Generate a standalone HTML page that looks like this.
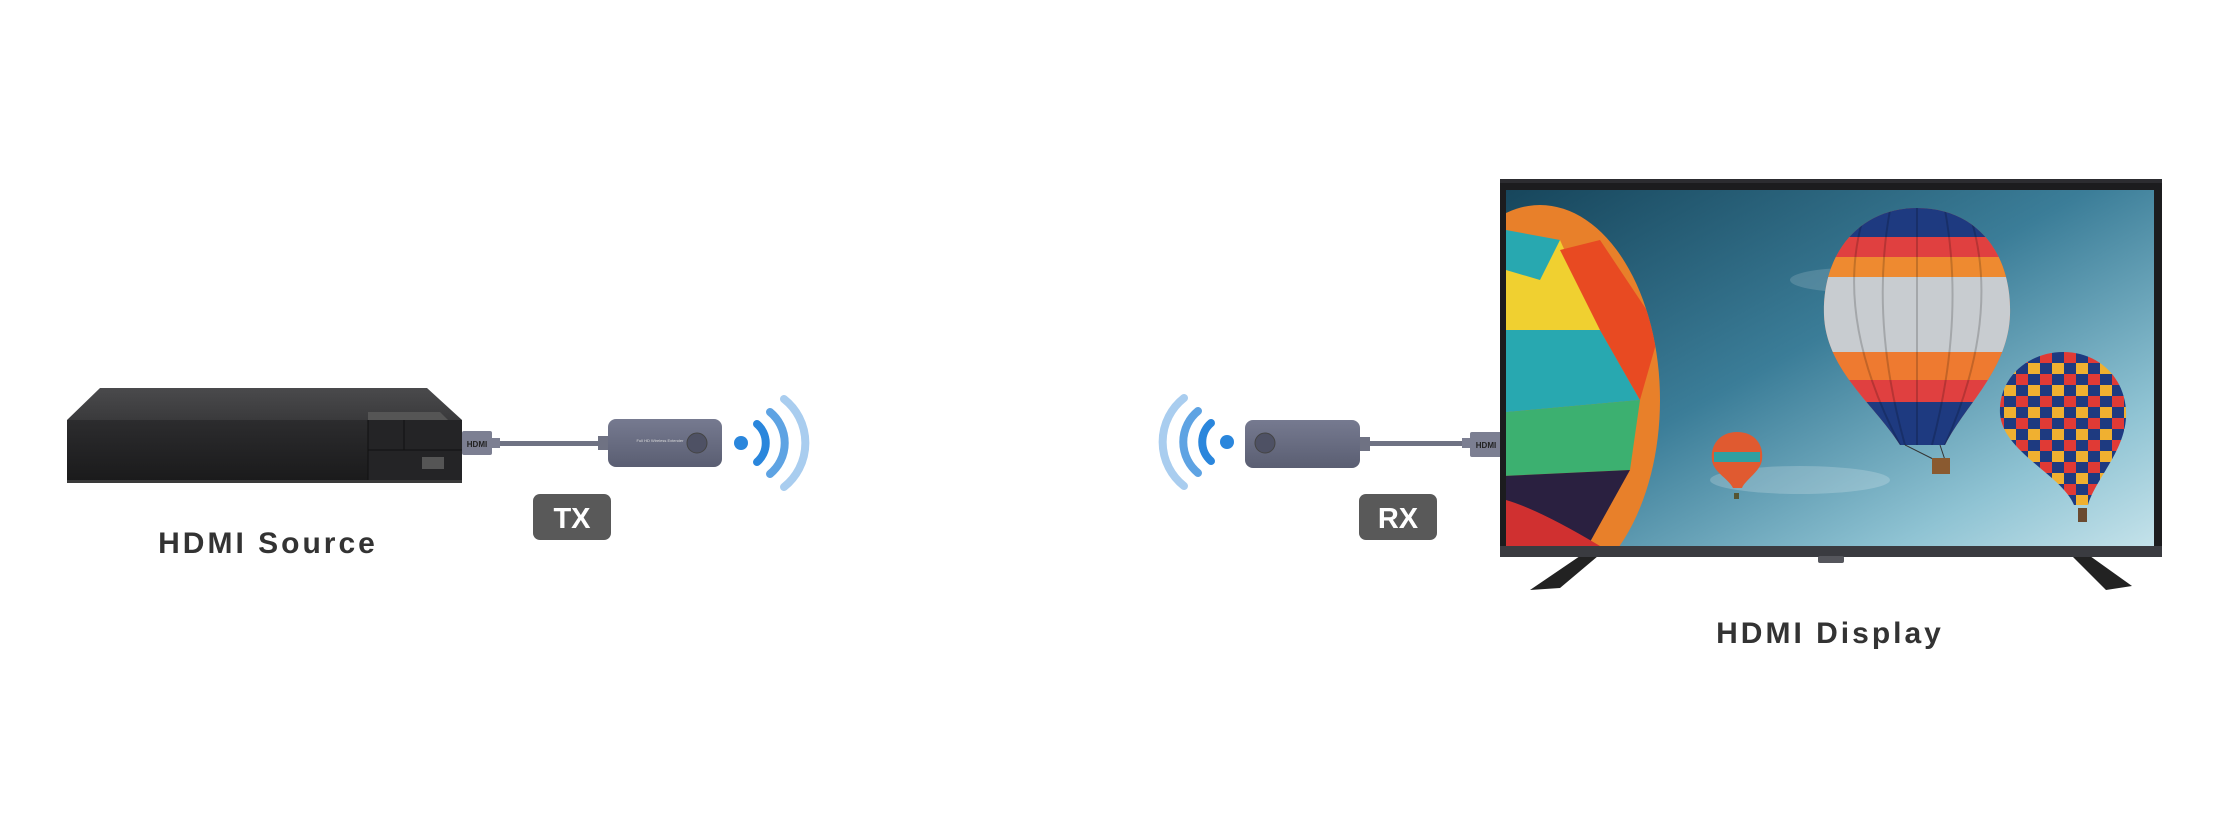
<!DOCTYPE html>
<html><head><meta charset="utf-8"><style>
html,body{margin:0;padding:0;background:#fff;width:2240px;height:838px;overflow:hidden}
</style></head><body>
<svg width="2240" height="838" viewBox="0 0 2240 838" xmlns="http://www.w3.org/2000/svg">
<defs>
<linearGradient id="sky" x1="0" y1="0" x2="1" y2="1">
<stop offset="0" stop-color="#17465c"/><stop offset="0.45" stop-color="#3b7d98"/><stop offset="0.8" stop-color="#8fc3d3"/><stop offset="1" stop-color="#c4e2ea"/>
</linearGradient>
<linearGradient id="front" x1="0" y1="0" x2="0" y2="1"><stop offset="0" stop-color="#2c2c2e"/><stop offset="1" stop-color="#1a1a1b"/></linearGradient>
<linearGradient id="topf" x1="0" y1="0" x2="0" y2="1"><stop offset="0" stop-color="#4a4a4c"/><stop offset="1" stop-color="#3a3a3c"/></linearGradient>
<linearGradient id="dong" x1="0" y1="0" x2="0" y2="1"><stop offset="0" stop-color="#767a90"/><stop offset="1" stop-color="#5a5e72"/></linearGradient>
<clipPath id="scr"><rect x="1506" y="190" width="648" height="356"/></clipPath>
<clipPath id="bigb"><path d="M1917,208 C1978,208 2012,255 2010,315 C2008,370 1965,405 1945,445 L1900,445 C1875,405 1826,370 1824,315 C1822,255 1858,208 1917,208Z"/></clipPath>
<clipPath id="rb"><path d="M2063,352 C2102,352 2128,382 2126,418 C2124,452 2095,480 2088,505 L2074,505 C2062,475 2003,452 2000,414 C1998,378 2028,352 2063,352Z"/></clipPath>
<clipPath id="lb"><ellipse cx="1540" cy="400" rx="120" ry="195"/></clipPath>
<pattern id="chk" width="24" height="22" patternUnits="userSpaceOnUse">
<rect width="24" height="22" fill="#1e3a80"/><rect width="12" height="11" fill="#e03a35"/><rect x="12" y="11" width="12" height="11" fill="#f0b030"/>
</pattern>
</defs>

<polygon points="100,388 427,388 462,420 67,420" fill="url(#topf)"/>
<polygon points="368,412 440,412 448,420 368,420" fill="#555"/>
<rect x="67" y="420" width="395" height="62" fill="url(#front)"/>
<rect x="368" y="420" width="94" height="62" fill="#242426"/>
<line x1="368" y1="420" x2="368" y2="482" stroke="#111" stroke-width="1"/>
<line x1="404" y1="420" x2="404" y2="450" stroke="#111" stroke-width="1"/>
<line x1="368" y1="450" x2="462" y2="450" stroke="#111" stroke-width="1"/>
<rect x="422" y="457" width="22" height="12" fill="#555"/>
<rect x="67" y="480" width="395" height="3" fill="#3a3a3a"/>

<rect x="462" y="431" width="30" height="24" rx="2" fill="#7c7f92"/>
<text x="477" y="447" font-family="Liberation Sans, sans-serif" font-size="8" font-weight="bold" fill="#222" text-anchor="middle">HDMI</text>
<rect x="492" y="438" width="8" height="10" fill="#7c7f92"/>
<rect x="500" y="441" width="100" height="5" fill="#6f7283"/>
<rect x="598" y="436" width="10" height="14" fill="#6f7283"/>
<rect x="608" y="419" width="114" height="48" rx="8" fill="url(#dong)"/>
<circle cx="697" cy="443" r="10" fill="#4e5164" stroke="#444" stroke-width="1"/>
<text x="660" y="442" font-family="Liberation Sans, sans-serif" font-size="4" fill="#ddd" text-anchor="middle">Full HD Wireless Extender</text>
<circle cx="741" cy="443" r="7" fill="#2a86dc"/>
<path d="M757,424 A25,25 0 0 1 757,462" fill="none" stroke="#2a86dc" stroke-width="8" stroke-linecap="round"/>
<path d="M770,412 A40,40 0 0 1 770,474" fill="none" stroke="#5ea3e3" stroke-width="8" stroke-linecap="round"/>
<path d="M784,399 A56,56 0 0 1 784,487" fill="none" stroke="#a9cdef" stroke-width="8" stroke-linecap="round"/>

<rect x="533" y="494" width="78" height="46" rx="7" fill="#595959"/>
<text x="572" y="528" font-family="Liberation Sans, sans-serif" font-size="29" font-weight="bold" fill="#fff" text-anchor="middle">TX</text>
<text x="268" y="553" font-family="Liberation Sans, sans-serif" font-size="30" font-weight="bold" fill="#333" text-anchor="middle" letter-spacing="3">HDMI Source</text>

<circle cx="1227" cy="442" r="7" fill="#2a86dc"/>
<path d="M1211,423 A25,25 0 0 0 1211,461" fill="none" stroke="#2a86dc" stroke-width="8" stroke-linecap="round"/>
<path d="M1198,411 A40,40 0 0 0 1198,473" fill="none" stroke="#5ea3e3" stroke-width="8" stroke-linecap="round"/>
<path d="M1184,398 A56,56 0 0 0 1184,486" fill="none" stroke="#a9cdef" stroke-width="8" stroke-linecap="round"/>
<rect x="1245" y="420" width="115" height="48" rx="8" fill="url(#dong)"/>
<circle cx="1265" cy="443" r="10" fill="#4e5164" stroke="#444" stroke-width="1"/>
<rect x="1360" y="437" width="10" height="14" fill="#6f7283"/>
<rect x="1370" y="441" width="95" height="5" fill="#6f7283"/>
<rect x="1462" y="438" width="8" height="10" fill="#7c7f92"/>
<rect x="1470" y="432" width="32" height="25" rx="2" fill="#7c7f92"/>
<text x="1486" y="448" font-family="Liberation Sans, sans-serif" font-size="8" font-weight="bold" fill="#222" text-anchor="middle">HDMI</text>
<rect x="1359" y="494" width="78" height="46" rx="7" fill="#595959"/>
<text x="1398" y="528" font-family="Liberation Sans, sans-serif" font-size="29" font-weight="bold" fill="#fff" text-anchor="middle">RX</text>

<polygon points="1580,556 1598,556 1560,588 1530,590" fill="#222"/>
<polygon points="2072,556 2090,556 2132,586 2106,590" fill="#222"/>
<rect x="1500" y="179" width="662" height="378" fill="#1c1c1e"/>
<rect x="1500" y="546" width="662" height="11" fill="#3a3b40"/>
<rect x="1818" y="556" width="26" height="7" rx="2" fill="#55565c"/>
<rect x="1506" y="190" width="648" height="356" fill="url(#sky)"/>
<g clip-path="url(#scr)">
<ellipse cx="1850" cy="280" rx="60" ry="12" fill="#fff" opacity="0.15"/>
<ellipse cx="1800" cy="480" rx="90" ry="14" fill="#fff" opacity="0.2"/>
<g clip-path="url(#lb)">
<rect x="1400" y="200" width="300" height="400" fill="#e8802a"/>
<path d="M1420,260 L1560,240 L1600,330 L1420,330Z" fill="#f0d030"/>
<path d="M1420,330 L1600,330 L1640,400 L1420,420Z" fill="#28a8b0"/>
<path d="M1560,250 L1600,240 L1660,330 L1640,400 L1600,330Z" fill="#e84a22"/>
<path d="M1420,420 L1640,400 L1630,470 L1420,480Z" fill="#3cb070"/>
<path d="M1420,480 L1630,470 L1580,560 L1420,560Z" fill="#2a2040"/>
<path d="M1506,500 Q1540,510 1600,546 L1506,546Z" fill="#d03030"/>
<path d="M1506,230 L1560,240 L1540,280 L1506,270Z" fill="#28a8b0"/>
</g>
<g clip-path="url(#bigb)">
<rect x="1820" y="205" width="195" height="245" fill="#e86530"/>
<rect x="1820" y="205" width="195" height="32" fill="#1e3a80"/>
<rect x="1820" y="237" width="195" height="20" fill="#e04040"/>
<rect x="1820" y="257" width="195" height="20" fill="#ee8a30"/>
<rect x="1820" y="277" width="195" height="75" fill="#c8ccd0"/>
<rect x="1820" y="352" width="195" height="28" fill="#ee7a30"/>
<rect x="1820" y="380" width="195" height="22" fill="#e04040"/>
<rect x="1820" y="402" width="195" height="45" fill="#1e3a80"/>
<g stroke="#000" stroke-opacity="0.18" stroke-width="2" fill="none">
<path d="M1917,208 L1917,445 M1890,210 Q1870,320 1905,445 M1945,210 Q1965,320 1932,445 M1862,222 Q1835,320 1900,445 M1972,222 Q2000,320 1945,445"/>
</g>
</g>
<line x1="1905" y1="445" x2="1935" y2="460" stroke="#333" stroke-width="1"/>
<line x1="1940" y1="445" x2="1945" y2="460" stroke="#333" stroke-width="1"/>
<rect x="1932" y="458" width="18" height="16" fill="#8a5a30"/>
<g clip-path="url(#rb)"><rect x="1995" y="350" width="135" height="160" fill="url(#chk)"/></g>
<rect x="2078" y="508" width="9" height="14" fill="#6a4a30"/>
<path d="M1737,432 C1755,432 1764,445 1762,460 C1760,472 1745,480 1742,488 L1733,488 C1728,478 1713,472 1712,460 C1710,445 1720,432 1737,432Z" fill="#e05a30"/>
<path d="M1714,452 L1760,452 L1760,462 L1714,462Z" fill="#30a0a0"/>
<rect x="1734" y="493" width="5" height="6" fill="#553"/>
</g>
<rect x="1500" y="179" width="662" height="4" fill="#2c2c30"/>

<text x="1830" y="643" font-family="Liberation Sans, sans-serif" font-size="30" font-weight="bold" fill="#333" text-anchor="middle" letter-spacing="3">HDMI Display</text>
</svg>
</body></html>
